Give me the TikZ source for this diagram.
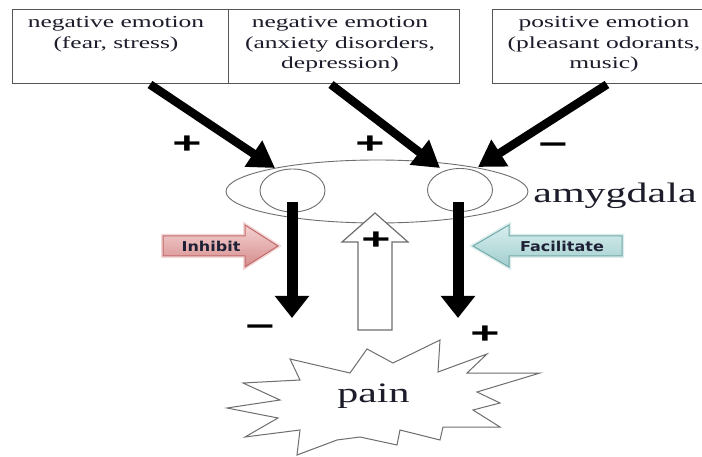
\documentclass[tikz,border=0pt]{standalone}
\usepackage{fontspec}
\setmainfont{Liberation Serif}
\newfontfamily\lsans{Liberation Sans}
\newfontfamily\djv{DejaVu Sans}
\usepackage{graphicx}
\usetikzlibrary{shapes.geometric,arrows.meta}
\definecolor{boxline}{HTML}{555555}
\definecolor{ellline}{HTML}{6E6E6E}
\definecolor{txtcol}{HTML}{1C1C2A}
\definecolor{lblcol}{HTML}{1E2035}
\definecolor{redA}{HTML}{F4D2D2}
\definecolor{redB}{HTML}{D68C8C}
\definecolor{redE}{HTML}{C26A6A}
\definecolor{redG}{HTML}{EAB8B8}
\definecolor{tealA}{HTML}{D8EEEE}
\definecolor{tealB}{HTML}{A2CECE}
\definecolor{tealE}{HTML}{74AAAA}
\definecolor{tealG}{HTML}{BEDDDD}
\newcommand\sqz[2]{\scalebox{1}[#1]{#2}}
\begin{document}
\begin{tikzpicture}[x=1pt,y=-1pt,
  box/.style={draw=boxline, line width=1pt, minimum width=#1, minimum height=74pt, inner sep=0pt},
  txt/.style={inner sep=0pt, font=\fontsize{25.5}{31}\selectfont, text=txtcol},
  big/.style={inner sep=0pt, font=\fontsize{42}{50}\selectfont, text=txtcol},
  ring/.style={ellipse, draw=ellline, line width=0.9pt, inner sep=0pt},
  sign/.style={inner sep=0pt, font=\lsans\bfseries\fontsize{50}{50}\selectfont, text=black},
  diag/.style={line width=8.5pt, -{Triangle[length=26pt,width=30pt]}},
  vert/.style={line width=11pt, -{Triangle[length=22pt,width=33pt]}},
  hollow/.style={draw=ellline, line width=1.2pt, fill=white},
  lbl/.style={inner sep=0pt, font=\djv\bfseries\fontsize{16}{18}\selectfont, text=lblcol},
  inhshape/.style={draw=redE, line width=1pt, top color=redA, bottom color=redB},
  inhglow/.style={draw=redG, line width=4pt, opacity=0.55},
  facshape/.style={draw=tealE, line width=1pt, top color=tealA, bottom color=tealB},
  facglow/.style={draw=tealG, line width=4pt, opacity=0.55},
  burst/.style={draw=ellline, line width=1pt, fill=white}
]
\useasboundingbox (0,0) rectangle (702,457);
\clip (0,0) rectangle (702,457);
\fill[white] (0,0) rectangle (702,457);

% top boxes
\node[box=216pt] (b1) at (120,47) {};
\node[box=231pt] (b2) at (343.5,47) {};
\node[box=222pt] (b3) at (603,47) {};
\node[txt] (t1) at (116,34) {\sqz{0.66}{\begin{tabular}{@{}c@{}}negative emotion\\(fear, stress)\end{tabular}}};
\node[txt] (t2) at (340,44) {\sqz{0.66}{\begin{tabular}{@{}c@{}}negative emotion\\(anxiety disorders,\\depression)\end{tabular}}};
\node[txt] (t3) at (604,44) {\sqz{0.66}{\begin{tabular}{@{}c@{}}positive emotion\\(pleasant odorants,\\music)\end{tabular}}};

% amygdala
\node[ring, minimum width=302pt, minimum height=63pt] (amy) at (377,191.5) {};
\node[ring, minimum width=65pt, minimum height=43pt] (cl) at (292.5,190.5) {};
\node[ring, minimum width=65pt, minimum height=43pt] (cr) at (460,190) {};
\node[big, anchor=base] (amylab) at (615,203) {\sqz{0.67}{amygdala}};

% input arrows
\coordinate (e1) at (275,168);
\coordinate (e2) at (440,168);
\coordinate (e3) at (478,167);
\draw[diag] ([xshift=30pt]b1.south) -- (e1);
\draw[diag] ([xshift=-12.5pt]b2.south) -- (e2);
\draw[diag] ([xshift=4pt]b3.south) -- (e3);
\node[sign] (s1) at (187,145) {\sqz{0.6}{+}};
\node[sign] (s2) at (370,145) {\sqz{0.6}{+}};
\node[sign] (s3) at (553,149) {\sqz{0.6}{−}};

% pain
\path[burst] (227,408) -- (280,400) -- (243,383) -- (300,380) -- (290,359)
  -- (350,373) -- (367,349) -- (393,363) -- (440,340) -- (438,372)
  -- (487,354) -- (467,373) -- (540,373) -- (477,392) -- (500,403)
  -- (473,410) -- (500,427) -- (443,427) -- (440,440) -- (400,430)
  -- (397,445) -- (360,437) -- (337,440) -- (297,455) -- (300,430)
  -- (245,437) -- (278,418) -- cycle;
\node[big, anchor=base] (pain) at (373.5,402) {\sqz{0.67}{pain}};

% output arrows
\coordinate (pl) at (292,318);
\coordinate (pr) at (458,318);
\draw[vert] ([xshift=-0.5pt,yshift=-11.5pt]cl.center) -- (pl);
\draw[vert] ([xshift=-2pt,yshift=-12pt]cr.center) -- (pr);
\node[sign] (s4) at (260,331) {\sqz{0.6}{−}};
\node[sign] (s5) at (485,335) {\sqz{0.6}{+}};

% hollow ascending arrow
\path[hollow] (358,330) -- (358,242) -- (342,242) -- (375,213) -- (408,242)
  -- (392,242) -- (392,330) -- cycle;
\node[sign] (s6) at (376,241) {\sqz{0.6}{+}};

% Inhibit
\path[inhglow] (163,236) -- (245,236) -- (245,225) -- (278,246) -- (245,267) -- (245,256) -- (163,256) -- cycle;
\path[inhshape] (163,236) -- (245,236) -- (245,225) -- (278,246) -- (245,267) -- (245,256) -- (163,256) -- cycle;
\node[lbl] (inh) at (211,246) {\sqz{0.85}{Inhibit}};

% Facilitate
\path[facglow] (473,246) -- (509,225) -- (509,236) -- (622,236) -- (622,256) -- (509,256) -- (509,267) -- cycle;
\path[facshape] (473,246) -- (509,225) -- (509,236) -- (622,236) -- (622,256) -- (509,256) -- (509,267) -- cycle;
\node[lbl] (fac) at (562,246) {\sqz{0.85}{Facilitate}};
\end{tikzpicture}
\end{document}
